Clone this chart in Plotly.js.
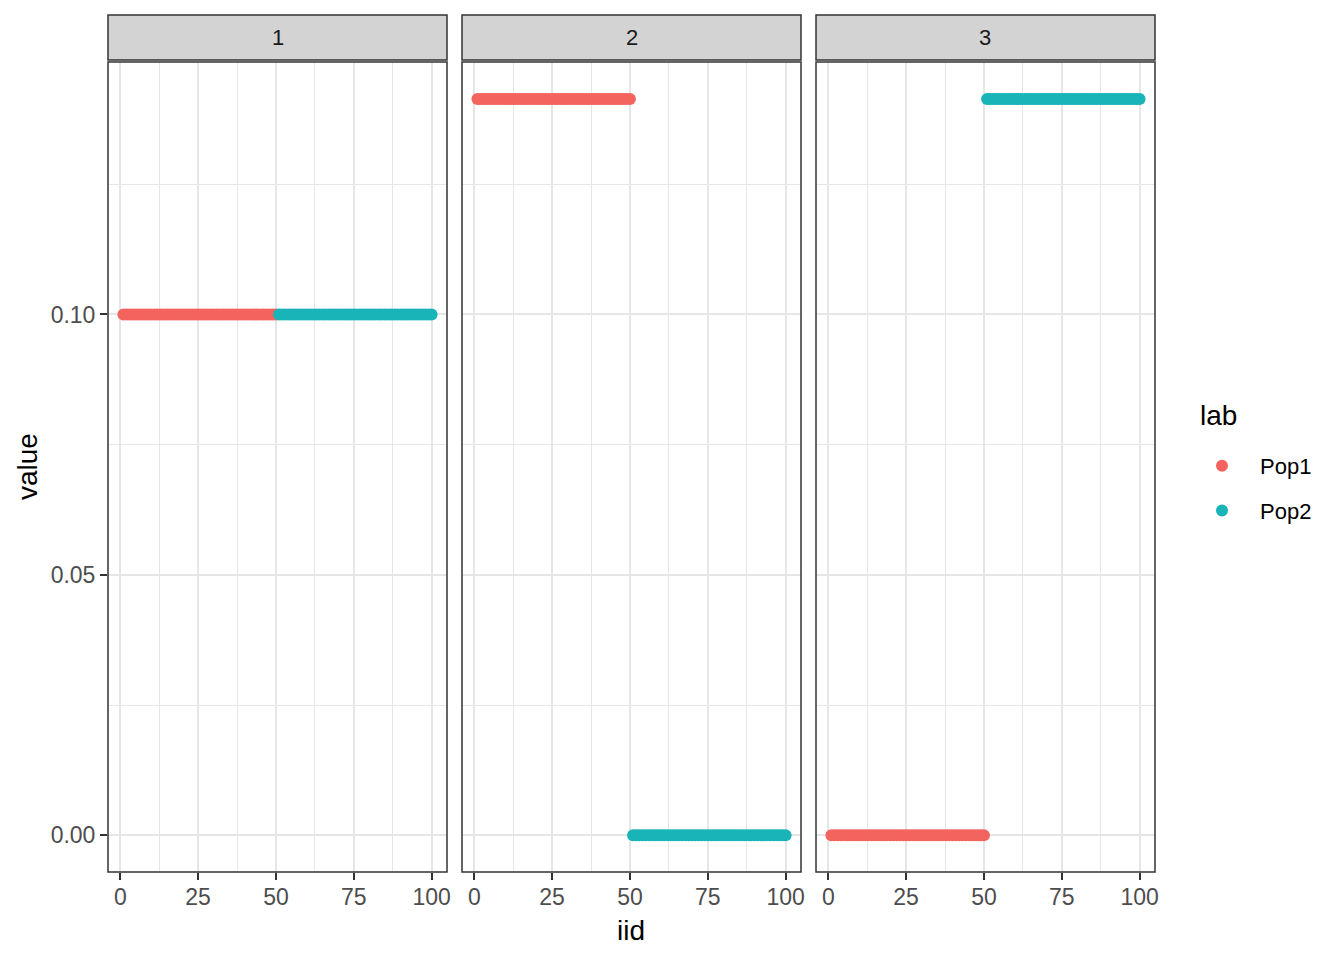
<!DOCTYPE html>
<html>
<head>
<meta charset="utf-8">
<script src="https://cdn.plot.ly/plotly-3.0.1.min.js"></script>
<style>html,body{margin:0;padding:0;background:#fff;}#chart{width:1344px;height:960px;}</style>
</head>
<body>
<div id="chart"></div>
<script>
// ---- data ----
const panels = ["1", "2", "3"];
const popLabels = ["Pop1", "Pop2"];
const popColors = ["#F4645F", "#19B4B8"];
const iidPop1 = [1,2,3,4,5,6,7,8,9,10,11,12,13,14,15,16,17,18,19,20,21,22,23,24,25,26,27,28,29,30,31,32,33,34,35,36,37,38,39,40,41,42,43,44,45,46,47,48,49,50];
const iidPop2 = [51,52,53,54,55,56,57,58,59,60,61,62,63,64,65,66,67,68,69,70,71,72,73,74,75,76,77,78,79,80,81,82,83,84,85,86,87,88,89,90,91,92,93,94,95,96,97,98,99,100];
const panel1Pop1 = [0.1,0.1,0.1,0.1,0.1,0.1,0.1,0.1,0.1,0.1,0.1,0.1,0.1,0.1,0.1,0.1,0.1,0.1,0.1,0.1,0.1,0.1,0.1,0.1,0.1,0.1,0.1,0.1,0.1,0.1,0.1,0.1,0.1,0.1,0.1,0.1,0.1,0.1,0.1,0.1,0.1,0.1,0.1,0.1,0.1,0.1,0.1,0.1,0.1,0.1];
const panel1Pop2 = [0.1,0.1,0.1,0.1,0.1,0.1,0.1,0.1,0.1,0.1,0.1,0.1,0.1,0.1,0.1,0.1,0.1,0.1,0.1,0.1,0.1,0.1,0.1,0.1,0.1,0.1,0.1,0.1,0.1,0.1,0.1,0.1,0.1,0.1,0.1,0.1,0.1,0.1,0.1,0.1,0.1,0.1,0.1,0.1,0.1,0.1,0.1,0.1,0.1,0.1];
const panel2Pop1 = [0.1414,0.1414,0.1414,0.1414,0.1414,0.1414,0.1414,0.1414,0.1414,0.1414,0.1414,0.1414,0.1414,0.1414,0.1414,0.1414,0.1414,0.1414,0.1414,0.1414,0.1414,0.1414,0.1414,0.1414,0.1414,0.1414,0.1414,0.1414,0.1414,0.1414,0.1414,0.1414,0.1414,0.1414,0.1414,0.1414,0.1414,0.1414,0.1414,0.1414,0.1414,0.1414,0.1414,0.1414,0.1414,0.1414,0.1414,0.1414,0.1414,0.1414];
const panel2Pop2 = [0,0,0,0,0,0,0,0,0,0,0,0,0,0,0,0,0,0,0,0,0,0,0,0,0,0,0,0,0,0,0,0,0,0,0,0,0,0,0,0,0,0,0,0,0,0,0,0,0,0];
const panel3Pop1 = [0,0,0,0,0,0,0,0,0,0,0,0,0,0,0,0,0,0,0,0,0,0,0,0,0,0,0,0,0,0,0,0,0,0,0,0,0,0,0,0,0,0,0,0,0,0,0,0,0,0];
const panel3Pop2 = [0.1414,0.1414,0.1414,0.1414,0.1414,0.1414,0.1414,0.1414,0.1414,0.1414,0.1414,0.1414,0.1414,0.1414,0.1414,0.1414,0.1414,0.1414,0.1414,0.1414,0.1414,0.1414,0.1414,0.1414,0.1414,0.1414,0.1414,0.1414,0.1414,0.1414,0.1414,0.1414,0.1414,0.1414,0.1414,0.1414,0.1414,0.1414,0.1414,0.1414,0.1414,0.1414,0.1414,0.1414,0.1414,0.1414,0.1414,0.1414,0.1414,0.1414];
const xTickVals = [0, 25, 50, 75, 100];
const xTickText = ["0", "25", "50", "75", "100"];
const yTickVals = [0, 0.05, 0.10];
const yTickText = ["0.00", "0.05", "0.10"];
const xTitle = "iid";
const yTitle = "value";
const legendTitle = "lab";

const panelValues = [[panel1Pop1, panel1Pop2], [panel2Pop1, panel2Pop2], [panel3Pop1, panel3Pop2]];
const popIids = [iidPop1, iidPop2];

// ---- layout geometry (pixels) ----
const W = 1344, H = 960;
const panelPx = [[108, 447], [462, 801], [816, 1155]];
const plotTop = 62, plotBottom = 872;
const stripTop = 15, stripBottom = 60;
const FONT = "Liberation Sans, Arial, sans-serif";
const GRID = "#E6E6E6";

const traces = [];
panels.forEach((p, i) => {
  const ax = i === 0 ? "" : String(i + 1);
  popLabels.forEach((lab, j) => {
    traces.push({
      type: "scatter", mode: "markers",
      x: popIids[j], y: panelValues[i][j],
      xaxis: "x" + ax, yaxis: "y" + ax,
      name: lab, legendgroup: lab, showlegend: i === 0,
      marker: {color: popColors[j], size: 12, line: {width: 0}},
      hoverinfo: "x+y+name"
    });
  });
});

const layout = {
  width: W, height: H,
  margin: {l: 0, r: 0, t: 0, b: 0},
  paper_bgcolor: "#FFFFFF", plot_bgcolor: "#FFFFFF",
  font: {family: FONT, color: "#000000"},
  showlegend: true,
  legend: {
    x: 1184 / W, xanchor: "left", y: 1 - 445 / H, yanchor: "top",
    font: {size: 22, color: "#000000"},
    itemwidth: 66,
    tracegroupgap: 13, bgcolor: "rgba(0,0,0,0)"
  },
  shapes: [], annotations: []
};

const xRange = [-3.95, 104.95];
const yRange = [-0.00707, 0.14849];

panels.forEach((p, i) => {
  const ax = i === 0 ? "" : String(i + 1);
  layout["xaxis" + ax] = {
    domain: [panelPx[i][0] / W, panelPx[i][1] / W],
    range: xRange, anchor: "y" + ax,
    tickvals: xTickVals, ticktext: xTickText,
    ticks: "outside", ticklen: 7, tickwidth: 2, tickcolor: "#333333",
    tickfont: {size: 23, color: "#4D4D4D", family: FONT},
    ticklabelstandoff: -3,
    showgrid: true, gridcolor: GRID, gridwidth: 2,
    minor: {tickvals: [12.5, 37.5, 62.5, 87.5], showgrid: true, gridcolor: GRID, gridwidth: 1, ticks: ""},
    zeroline: false, showline: false, fixedrange: true
  };
  layout["yaxis" + ax] = {
    domain: [1 - plotBottom / H, 1 - plotTop / H],
    range: yRange, anchor: "x" + ax,
    tickvals: yTickVals, ticktext: yTickText,
    ticks: i === 0 ? "outside" : "", ticklen: 7, tickwidth: 2, tickcolor: "#333333",
    showticklabels: i === 0,
    tickfont: {size: 23, color: "#4D4D4D", family: FONT},
    ticklabelstandoff: 0,
    showgrid: true, gridcolor: GRID, gridwidth: 2,
    minor: {tickvals: [0.025, 0.075, 0.125], showgrid: true, gridcolor: GRID, gridwidth: 1, ticks: ""},
    zeroline: false, showline: false, fixedrange: true
  };
  // panel border
  layout.shapes.push({
    type: "rect", xref: "x" + ax + " domain", yref: "y" + ax + " domain",
    x0: 0, x1: 1, y0: 0, y1: 1, line: {color: "#333333", width: 1.5}, layer: "above"
  });
  // strip
  layout.shapes.push({
    type: "rect", xref: "x" + ax + " domain", yref: "paper",
    x0: 0, x1: 1, y0: 1 - stripBottom / H, y1: 1 - stripTop / H,
    fillcolor: "#D3D3D3", line: {color: "#333333", width: 1.5}, layer: "above"
  });
  layout.annotations.push({
    xref: "x" + ax + " domain", yref: "paper", x: 0.5, y: 1 - (stripTop + stripBottom) / 2 / H,
    text: p, showarrow: false, xanchor: "center", yanchor: "middle",
    font: {size: 22, color: "#1A1A1A", family: FONT}
  });
});

// axis titles and legend title
layout.annotations.push({
  xref: "paper", yref: "paper", x: 631 / W, y: 1 - 930 / H,
  text: xTitle, showarrow: false, xanchor: "center", yanchor: "middle",
  font: {size: 28, color: "#000000", family: FONT}
});
layout.annotations.push({
  xref: "paper", yref: "paper", x: 27 / W, y: 1 - 467 / H,
  text: yTitle, showarrow: false, textangle: -90, xanchor: "center", yanchor: "middle",
  font: {size: 28, color: "#000000", family: FONT}
});
layout.annotations.push({
  xref: "paper", yref: "paper", x: 1198 / W, y: 1 - 415 / H,
  text: legendTitle, showarrow: false, xanchor: "left", yanchor: "middle",
  font: {size: 28, color: "#000000", family: FONT}
});

Plotly.newPlot("chart", traces, layout, {displayModeBar: false, staticPlot: true});
</script>
</body>
</html>
